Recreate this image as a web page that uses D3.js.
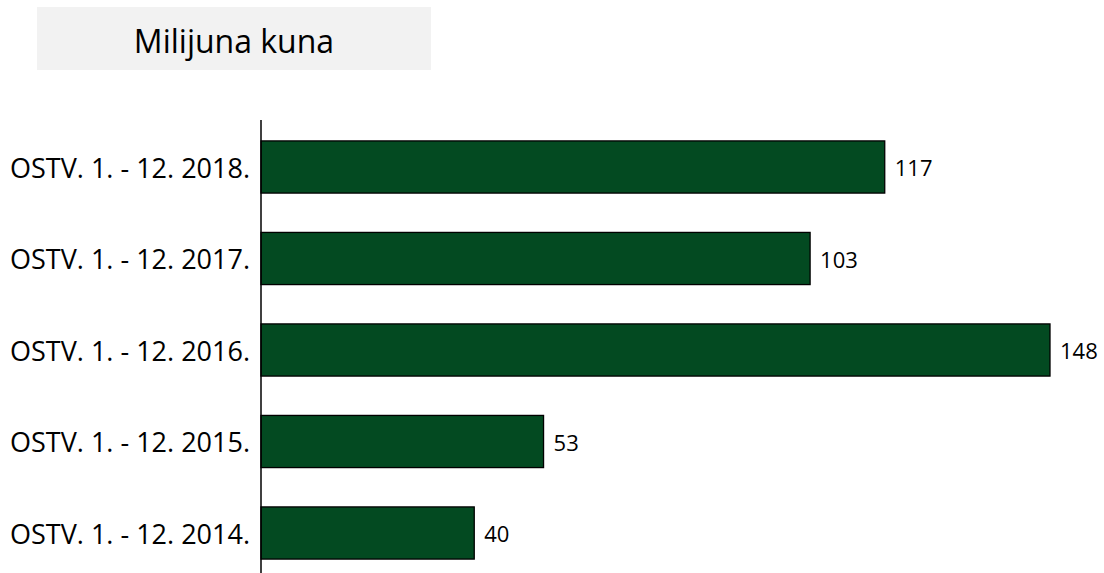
<!DOCTYPE html>
<html>
<head>
<meta charset="utf-8">
<script src="https://cdn.jsdelivr.net/npm/d3@7"></script>
<style>
  body { margin: 0; background: #ffffff; }
  svg { display: block; }
</style>
</head>
<body>
<svg id="chart" width="1104" height="573"></svg>
<script>
const categories = ["OSTV. 1. - 12. 2018.", "OSTV. 1. - 12. 2017.", "OSTV. 1. - 12. 2016.", "OSTV. 1. - 12. 2015.", "OSTV. 1. - 12. 2014."];
const values = [117, 103, 148, 53, 40];
const titleText = "Milijuna kuna";

const svg = d3.select("#chart");
const font = "'Open Sans', 'Noto Sans', sans-serif";

// title box
svg.append("rect").attr("x", 37).attr("y", 7).attr("width", 394).attr("height", 63).attr("fill", "#f2f2f2");
svg.append("text").attr("x", 234).attr("y", 40).attr("text-anchor", "middle").attr("dominant-baseline", "central")
  .attr("font-family", font).attr("font-size", 32).attr("fill", "#000").text(titleText);

const x0 = 261;
const x = d3.scaleLinear().domain([0, 148]).range([x0, 1050]);
const y = d3.scaleBand().domain(categories).range([121.25, 578.75]).paddingInner(0.43).paddingOuter(0.215);

svg.selectAll("rect.bar").data(values).join("rect").attr("class", "bar")
  .attr("x", x(0)).attr("y", (d, i) => y(categories[i]))
  .attr("width", d => x(d) - x(0)).attr("height", y.bandwidth())
  .attr("fill", "#034a21").attr("stroke", "#000").attr("stroke-width", 1.3);

svg.selectAll("text.val").data(values).join("text").attr("class", "val")
  .attr("x", d => x(d) + 10).attr("y", (d, i) => y(categories[i]) + y.bandwidth() / 2)
  .attr("dominant-baseline", "central").attr("font-family", font).attr("font-size", 22).attr("fill", "#000")
  .text(d => d);

svg.selectAll("text.cat").data(categories).join("text").attr("class", "cat")
  .attr("x", 250).attr("y", d => y(d) + y.bandwidth() / 2)
  .attr("text-anchor", "end").attr("dominant-baseline", "central")
  .attr("font-family", font).attr("font-size", 27).attr("fill", "#000").text(d => d);

svg.append("line").attr("x1", x0).attr("x2", x0).attr("y1", 120).attr("y2", 573)
  .attr("stroke", "#000").attr("stroke-width", 1.5);
</script>
</body>
</html>
